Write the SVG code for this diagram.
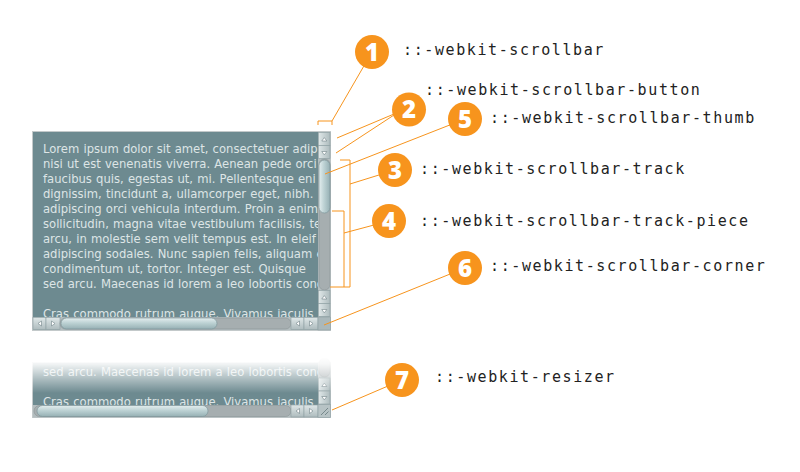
<svg xmlns="http://www.w3.org/2000/svg" width="800" height="472" viewBox="0 0 800 472">
<style>
.lbl{font-family:"DejaVu Sans Mono","Liberation Mono",monospace;font-size:15px;letter-spacing:1.6px;fill:#222}
.num{font-family:"Open Sans","DejaVu Sans",sans-serif;font-weight:800;font-size:24px;fill:#fff;text-anchor:middle}
.badge{fill:#f7941d}
.conn{stroke:#f7941d;stroke-width:1;fill:none}
.lorem{font-family:"DejaVu Sans",Verdana,sans-serif;font-size:11.6px;word-spacing:.5px;fill:#dde5e6}
.bg{fill:#6d8a90;stroke:#c3c9ca;stroke-width:1}
.btnv{fill:url(#btnV);stroke:#8d9fa2;stroke-width:.6}
.btnh{fill:url(#btnH);stroke:#8d9fa2;stroke-width:.6}
.arr{fill:#fff;stroke:#6f8286;stroke-width:.6}
.trk{fill:#a6aeb0;stroke:#8b9597;stroke-width:.6}
.col{fill:#b3bdbf}
</style>
<defs>
<linearGradient id="btnV" x1="0" y1="0" x2="1" y2="0"><stop offset="0" stop-color="#dfe7e8"/><stop offset="1" stop-color="#aebcbe"/></linearGradient>
<linearGradient id="btnH" x1="0" y1="0" x2="0" y2="1"><stop offset="0" stop-color="#dfe7e8"/><stop offset="1" stop-color="#aebcbe"/></linearGradient>
<linearGradient id="thumbV" x1="0" y1="0" x2="1" y2="0"><stop offset="0" stop-color="#e4eeef"/><stop offset=".45" stop-color="#bdd2d4"/><stop offset="1" stop-color="#96b0b4"/></linearGradient>
<linearGradient id="thumbH" x1="0" y1="0" x2="0" y2="1"><stop offset="0" stop-color="#e4eeef"/><stop offset=".45" stop-color="#bdd2d4"/><stop offset="1" stop-color="#96b0b4"/></linearGradient>
<linearGradient id="fade" x1="0" y1="0" x2="0" y2="1"><stop offset="0" stop-color="#fff" stop-opacity="1"/><stop offset=".2" stop-color="#fff" stop-opacity=".9"/><stop offset="1" stop-color="#fff" stop-opacity="0"/></linearGradient>
<clipPath id="clipA"><rect x="33" y="132" width="285" height="185"/></clipPath>
<clipPath id="clipB"><rect x="33" y="363" width="285" height="42"/></clipPath>
</defs>
<rect width="800" height="472" fill="#fff"/>

<g id="scroll-box">
<rect class="bg" x="32.5" y="131.5" width="298" height="199"/>
<g clip-path="url(#clipA)" class="lorem">
<text x="43" y="153.3">Lorem ipsum dolor sit amet, consectetuer adip</text>
<text x="43" y="168.3">nisi ut est venenatis viverra. Aenean pede orci</text>
<text x="43" y="183.3">faucibus quis, egestas ut, mi. Pellentesque eni</text>
<text x="43" y="198.3">dignissim, tincidunt a, ullamcorper eget, nibh.</text>
<text x="43" y="213.3">adipiscing orci vehicula interdum. Proin a enim</text>
<text x="43" y="228.3">sollicitudin, magna vitae vestibulum facilisis, te</text>
<text x="43" y="243.3">arcu, in molestie sem velit tempus est. In eleif</text>
<text x="43" y="258.3">adipiscing sodales. Nunc sapien felis, aliquam e</text>
<text x="43" y="273.3">condimentum ut, tortor. Integer est. Quisque</text>
<text x="43" y="288.3">sed arcu. Maecenas id lorem a leo lobortis cond</text>
<text x="43" y="318.3">Cras commodo rutrum augue. Vivamus iaculis</text>
</g>
<rect class="col" x="318" y="132" width="12.5" height="185"/>
<rect class="btnv" x="318.5" y="132.5" width="11.5" height="13"/>
<polygon class="arr" points="321.8,141 324.3,137.6 326.8,141"/>
<rect class="btnv" x="318.5" y="145.5" width="11.5" height="13"/>
<polygon class="arr" points="321.8,151.5 324.3,154.9 326.8,151.5"/>
<rect class="trk" x="319" y="159" width="11" height="131" rx="5.5"/>
<rect x="319" y="160" width="11" height="53" rx="5.5" fill="url(#thumbV)" stroke="#7e979b" stroke-width=".7"/>
<rect class="btnv" x="318.5" y="290.5" width="11.5" height="13"/>
<polygon class="arr" points="321.8,299 324.3,295.6 326.8,299"/>
<rect class="btnv" x="318.5" y="303.5" width="11.5" height="13"/>
<polygon class="arr" points="321.8,309.5 324.3,312.9 326.8,309.5"/>
<rect class="col" x="33" y="317" width="285" height="13"/>
<rect class="btnh" x="33" y="317.5" width="13" height="12"/>
<polygon class="arr" points="41.5,321 38,323.5 41.5,326"/>
<rect class="btnh" x="46" y="317.5" width="14" height="12"/>
<polygon class="arr" points="51.5,321 55,323.5 51.5,326"/>
<rect class="trk" x="60" y="318" width="231" height="11" rx="5.5"/>
<rect x="61" y="318" width="156" height="11" rx="5.5" fill="url(#thumbH)" stroke="#7e979b" stroke-width=".7"/>
<rect class="btnh" x="291" y="317.5" width="13" height="12"/>
<polygon class="arr" points="299.5,321 296,323.5 299.5,326"/>
<rect class="btnh" x="304" y="317.5" width="14" height="12"/>
<polygon class="arr" points="309.5,321 313,323.5 309.5,326"/>
<rect x="318" y="317" width="12.5" height="13" fill="#aab8bb" stroke="#8d9fa2" stroke-width=".6"/>
</g>

<g id="resizer-box">
<rect class="bg" x="32.5" y="362.5" width="298" height="55"/>
<g clip-path="url(#clipB)" class="lorem">
<text x="43" y="376">sed arcu. Maecenas id lorem a leo lobortis conc</text>
<text x="43" y="406">Cras commodo rutrum augue. Vivamus iaculis</text>
</g>
<rect class="col" x="318" y="363" width="12.5" height="42"/>
<rect class="trk" x="319" y="358" width="11" height="19" rx="5.5"/>
<rect class="btnv" x="318.5" y="378" width="11.5" height="13"/>
<polygon class="arr" points="321.8,386.5 324.3,383.1 326.8,386.5"/>
<rect class="btnv" x="318.5" y="391" width="11.5" height="13"/>
<polygon class="arr" points="321.8,396.5 324.3,399.9 326.8,396.5"/>
<rect class="col" x="33" y="405" width="285" height="12.5"/>
<rect class="trk" x="34" y="405.5" width="257" height="11" rx="5.5"/>
<rect x="37" y="405.5" width="171" height="11" rx="5.5" fill="url(#thumbH)" stroke="#7e979b" stroke-width=".7"/>
<rect class="btnh" x="291" y="405" width="13" height="12"/>
<polygon class="arr" points="299.5,408.5 296,411 299.5,413.5"/>
<rect class="btnh" x="304" y="405" width="14" height="12"/>
<polygon class="arr" points="309.5,408.5 313,411 309.5,413.5"/>
<rect x="318" y="404.5" width="12.5" height="13" fill="#b7c3c5" stroke="#8d9fa2" stroke-width=".6"/>
<path d="M321,415 L328,408 M325,415 L328.5,411.5" stroke="#6f8286" stroke-width=".9" fill="none"/>
<rect x="30" y="357" width="304" height="36" fill="url(#fade)"/>
</g>

<g id="connectors">
<path class="conn" d="M318,125 V121 H332 V125"/>
<line class="conn" x1="332" y1="121" x2="372" y2="52"/>
<line class="conn" x1="337" y1="138" x2="394" y2="114"/>
<line class="conn" x1="336" y1="153" x2="394" y2="115"/>
<line class="conn" x1="325" y1="174" x2="465" y2="119"/>
<path class="conn" d="M340,160 H350 V287 H330"/>
<line class="conn" x1="350" y1="184" x2="395" y2="170"/>
<path class="conn" d="M332,211 H344 V287"/>
<line class="conn" x1="344" y1="233" x2="389" y2="221"/>
<line class="conn" x1="324" y1="325" x2="465" y2="268"/>
<line class="conn" x1="332" y1="410" x2="402" y2="380"/>
</g>

<g id="n1"><circle class="badge" cx="372" cy="52" r="17"/><text class="num" x="372" y="60.5">1</text><text class="lbl" x="403" y="55">::-webkit-scrollbar</text></g>
<g id="n2"><circle class="badge" cx="409" cy="109.5" r="17"/><text class="num" x="409" y="118">2</text><text class="lbl" x="425" y="95">::-webkit-scrollbar-button</text></g>
<g id="n5"><circle class="badge" cx="465" cy="119" r="17"/><text class="num" x="465" y="127.5">5</text><text class="lbl" x="490" y="123">::-webkit-scrollbar-thumb</text></g>
<g id="n3"><circle class="badge" cx="395" cy="170" r="17"/><text class="num" x="395" y="178.5">3</text><text class="lbl" x="420" y="174">::-webkit-scrollbar-track</text></g>
<g id="n4"><circle class="badge" cx="389" cy="221" r="17"/><text class="num" x="389" y="229.5">4</text><text class="lbl" x="420" y="226">::-webkit-scrollbar-track-piece</text></g>
<g id="n6"><circle class="badge" cx="465" cy="268" r="17"/><text class="num" x="465" y="276.5">6</text><text class="lbl" x="490" y="271">::-webkit-scrollbar-corner</text></g>
<g id="n7"><circle class="badge" cx="402" cy="380" r="17"/><text class="num" x="402" y="388.5">7</text><text class="lbl" x="435" y="382">::-webkit-resizer</text></g>
</svg>
